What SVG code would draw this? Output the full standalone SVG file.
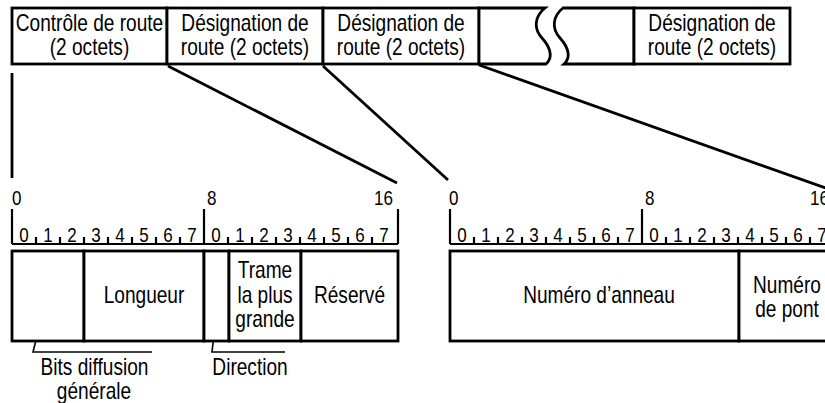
<svg xmlns="http://www.w3.org/2000/svg" width="825" height="403" viewBox="0 0 825 403">
<style>
.box{fill:#fff;stroke:#000;stroke-width:2.8}
.ln{fill:none;stroke:#000;stroke-width:2.8}
.rl{fill:none;stroke:#000;stroke-width:2.2}
.ld{fill:none;stroke:#000;stroke-width:1.6}
.t{font-family:"Liberation Sans",Arial,sans-serif;font-size:23px;fill:#000;text-anchor:middle}
.d{font-family:"Liberation Sans",Arial,sans-serif;font-size:20px;fill:#000;text-anchor:middle}
.s{text-anchor:start}
.e{text-anchor:end}
</style>
<rect width="825" height="403" fill="#fff"/>

<!-- top frame row -->
<g id="rc">
<rect class="box" x="12" y="8" width="155" height="56"/>
<text class="t" transform="translate(89.5,31) scale(0.83,1)">Contrôle de route</text>
<text class="t" transform="translate(89.5,55) scale(0.83,1)">(2 octets)</text>
</g>
<g id="rd1">
<rect class="box" x="167" y="8" width="156" height="56"/>
<text class="t" transform="translate(245,31) scale(0.83,1)">Désignation de</text>
<text class="t" transform="translate(245,55) scale(0.83,1)">route (2 octets)</text>
</g>
<g id="rd2">
<rect class="box" x="323" y="8" width="156" height="56"/>
<text class="t" transform="translate(401,31) scale(0.83,1)">Désignation de</text>
<text class="t" transform="translate(401,55) scale(0.83,1)">route (2 octets)</text>
</g>
<g id="gap-left">
<path class="box" d="M479,8 H545 C535,16 533,28 542,38 C551,48 553,58 546,64 H479 Z"/>
</g>
<g id="gap-right">
<path class="box" d="M563,8 H634 V64 H564 C571,58 569,48 560,38 C551,28 553,16 563,8 Z"/>
</g>
<g id="rdn">
<rect class="box" x="634" y="8" width="156" height="56"/>
<text class="t" transform="translate(712,31) scale(0.83,1)">Désignation de</text>
<text class="t" transform="translate(712,55) scale(0.83,1)">route (2 octets)</text>
</g>

<!-- connectors -->
<g id="connectors">
<path class="ln" d="M12,73 V178"/>
<path class="ln" d="M168,66 L397,183"/>
<path class="ln" d="M323,66 L448,180"/>
<path class="ln" d="M479,65 L834,191"/>
<path class="ld" d="M46,300 L33,352 H152"/>
<path class="ld" d="M218,298 L212,352 H285"/>
</g>

<!-- ruler 1 -->
<g id="ruler1">
<path class="rl" d="M12,244 H398 M12,209 V244 M204,209 V244 M398,209 V244 M36,237 V244 M60,237 V244 M84,237 V244 M108,237 V244 M132,237 V244 M156,237 V244 M180,237 V244 M228,237 V244 M252,237 V244 M276,237 V244 M300,237 V244 M324,237 V244 M348,237 V244 M372,237 V244"/>
<text class="d s" transform="translate(12,205) scale(0.85,1)">0</text>
<text class="d s" transform="translate(207,205) scale(0.85,1)">8</text>
<text class="d e" transform="translate(393,205) scale(0.85,1)">16</text>
<text class="d" transform="translate(24,242) scale(0.85,1)">0</text>
<text class="d" transform="translate(48,242) scale(0.85,1)">1</text>
<text class="d" transform="translate(72,242) scale(0.85,1)">2</text>
<text class="d" transform="translate(96,242) scale(0.85,1)">3</text>
<text class="d" transform="translate(120,242) scale(0.85,1)">4</text>
<text class="d" transform="translate(144,242) scale(0.85,1)">5</text>
<text class="d" transform="translate(168,242) scale(0.85,1)">6</text>
<text class="d" transform="translate(192,242) scale(0.85,1)">7</text>
<text class="d" transform="translate(216,242) scale(0.85,1)">0</text>
<text class="d" transform="translate(240,242) scale(0.85,1)">1</text>
<text class="d" transform="translate(264,242) scale(0.85,1)">2</text>
<text class="d" transform="translate(288,242) scale(0.85,1)">3</text>
<text class="d" transform="translate(312,242) scale(0.85,1)">4</text>
<text class="d" transform="translate(336,242) scale(0.85,1)">5</text>
<text class="d" transform="translate(360,242) scale(0.85,1)">6</text>
<text class="d" transform="translate(384,242) scale(0.85,1)">7</text>
</g>

<!-- ruler 2 -->
<g id="ruler2">
<path class="rl" d="M450,244 H834 M450,209 V244 M642,209 V244 M834,209 V244 M474,237 V244 M498,237 V244 M522,237 V244 M546,237 V244 M570,237 V244 M594,237 V244 M618,237 V244 M666,237 V244 M690,237 V244 M714,237 V244 M738,237 V244 M762,237 V244 M786,237 V244 M810,237 V244"/>
<text class="d s" transform="translate(449,205) scale(0.85,1)">0</text>
<text class="d s" transform="translate(645,205) scale(0.85,1)">8</text>
<text class="d e" transform="translate(829,205) scale(0.85,1)">16</text>
<text class="d" transform="translate(462,242) scale(0.85,1)">0</text>
<text class="d" transform="translate(486,242) scale(0.85,1)">1</text>
<text class="d" transform="translate(510,242) scale(0.85,1)">2</text>
<text class="d" transform="translate(534,242) scale(0.85,1)">3</text>
<text class="d" transform="translate(558,242) scale(0.85,1)">4</text>
<text class="d" transform="translate(582,242) scale(0.85,1)">5</text>
<text class="d" transform="translate(606,242) scale(0.85,1)">6</text>
<text class="d" transform="translate(630,242) scale(0.85,1)">7</text>
<text class="d" transform="translate(654,242) scale(0.85,1)">0</text>
<text class="d" transform="translate(678,242) scale(0.85,1)">1</text>
<text class="d" transform="translate(702,242) scale(0.85,1)">2</text>
<text class="d" transform="translate(726,242) scale(0.85,1)">3</text>
<text class="d" transform="translate(750,242) scale(0.85,1)">4</text>
<text class="d" transform="translate(774,242) scale(0.85,1)">5</text>
<text class="d" transform="translate(798,242) scale(0.85,1)">6</text>
<text class="d" transform="translate(822,242) scale(0.85,1)">7</text>
</g>

<!-- control fields -->
<g id="f-bits"><rect class="box" x="12" y="251" width="72" height="90"/></g>
<g id="f-longueur"><rect class="box" x="84" y="251" width="120" height="90"/>
<text class="t" transform="translate(144,303) scale(0.83,1)">Longueur</text></g>
<g id="f-direction"><rect class="box" x="204" y="251" width="25" height="90"/></g>
<g id="f-trame"><rect class="box" x="229" y="251" width="72" height="90"/>
<text class="t" transform="translate(265,278) scale(0.83,1)">Trame</text>
<text class="t" transform="translate(265,303) scale(0.83,1)">la plus</text>
<text class="t" transform="translate(265,327) scale(0.83,1)">grande</text></g>
<g id="f-reserve"><rect class="box" x="301" y="251" width="97" height="90"/>
<text class="t" transform="translate(349.5,303) scale(0.83,1)">Réservé</text></g>

<!-- designation fields -->
<g id="f-anneau"><rect class="box" x="450" y="251" width="289" height="90"/>
<text class="t" transform="translate(599,303) scale(0.83,1)">Numéro d’anneau</text></g>
<g id="f-pont"><rect class="box" x="739" y="251" width="100" height="90"/>
<text class="t" transform="translate(787,293) scale(0.83,1)">Numéro</text>
<text class="t" transform="translate(787,317) scale(0.83,1)">de pont</text></g>

<!-- leader labels -->
<g id="lbl-bits">
<text class="t" transform="translate(94.5,375) scale(0.83,1)">Bits diffusion</text>
<text class="t" transform="translate(94,399) scale(0.83,1)">générale</text>
</g>
<g id="lbl-direction">
<text class="t" transform="translate(250,375) scale(0.83,1)">Direction</text>
</g>
</svg>
